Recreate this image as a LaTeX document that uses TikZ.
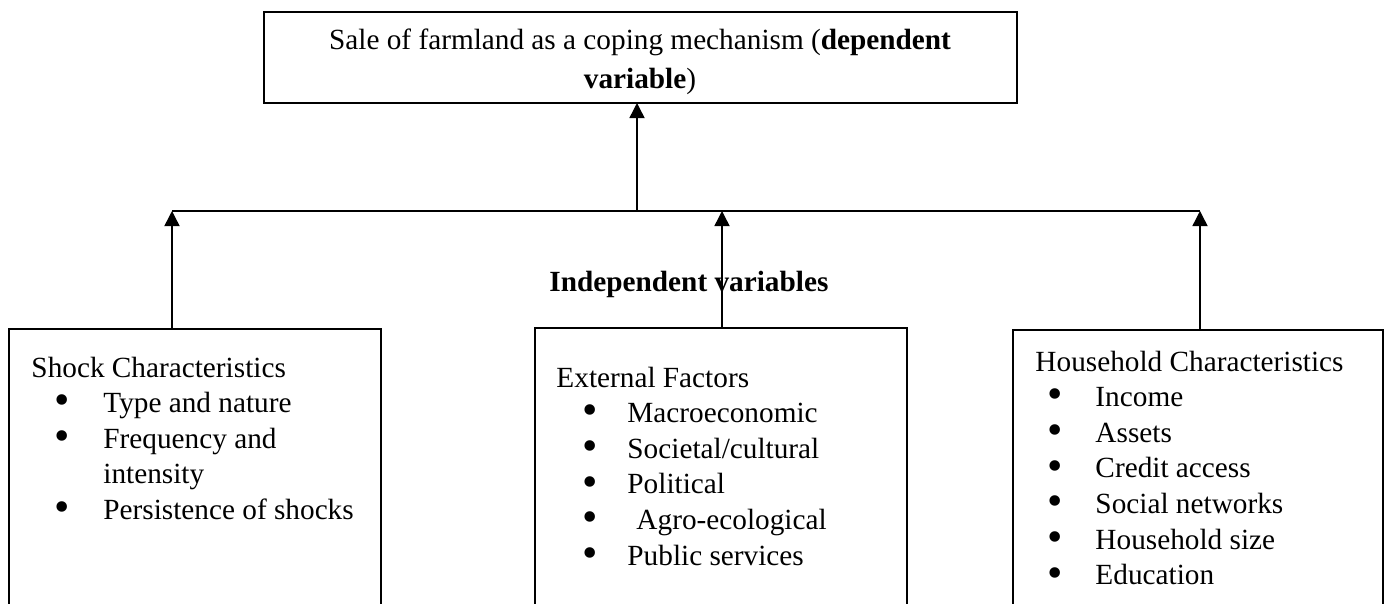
\documentclass[tikz,border=0pt]{standalone}
\usepackage{fontspec}
\usepackage{graphicx}
\setmainfont{Liberation Serif}
\usetikzlibrary{arrows.meta}
\newcommand\mybul{\raisebox{-0.08em}{\scalebox{1.5}{•}}}
\newcommand\myitem[3]{\makebox[#2][l]{\hspace{#1}\mybul}#3}
\begin{document}
\begin{tikzpicture}[x=0.41pt,y=-0.41pt,
  box/.style={draw, line width=0.82pt, anchor=north west, minimum height=170pt, inner sep=0pt, outer sep=0pt},
  conn/.style={line width=0.6pt},
  arr/.style={conn, -{Triangle[width=6.2pt,length=6.2pt]}},
  txt/.style={anchor=base west, inner sep=0pt, font=\fontsize{12}{14.6}\selectfont}]
\useasboundingbox (0,0) rectangle (1388,603);
\clip (0,0) rectangle (1388,603);
% top box
\node[draw, line width=0.82pt, minimum width=308.73pt, minimum height=37.31pt, inner sep=0pt, outer sep=0pt] (top) at (640.5,57.5) {};
\node[align=center, inner sep=0pt, font=\fontsize{12}{15.8}\selectfont] (toptxt) at (640,62) {Sale of farmland as a coping mechanism (\textbf{dependent}\\\textbf{variable})};
% lower boxes
\node[box, minimum width=152.52pt] (shock) at (9,329) {};
\node[box, minimum width=152.52pt] (ext) at (535,328) {};
\node[box, minimum width=151.7pt] (house) at (1013,330) {};
% texts
\node[txt, font=\bfseries\fontsize{12}{14.6}\selectfont] (indep) at (549,291) {Independent variables};
\node[txt] (shocktxt) at (31,377) {\begin{tabular}[t]{@{}l@{}}Shock Characteristics\\
 \myitem{9.4pt}{29.5pt}{Type and nature}\\
 \myitem{9.4pt}{29.5pt}{Frequency and}\\
 \hspace{29.5pt}intensity\\
 \myitem{9.4pt}{29.5pt}{Persistence of shocks}\end{tabular}};
\node[txt] (exttxt) at (556,387) {\begin{tabular}[t]{@{}l@{}}External Factors\\
 \myitem{10.5pt}{29.1pt}{Macroeconomic}\\
 \myitem{10.5pt}{29.1pt}{Societal/cultural}\\
 \myitem{10.5pt}{29.1pt}{Political}\\
 \myitem{10.5pt}{29.1pt}{\hspace{3.7pt}Agro-ecological}\\
 \myitem{10.5pt}{29.1pt}{Public services}\end{tabular}};
\node[txt] (housetxt) at (1035,371) {\begin{tabular}[t]{@{}l@{}}Household Characteristics\\
 \myitem{4.8pt}{24.6pt}{Income}\\
 \myitem{4.8pt}{24.6pt}{Assets}\\
 \myitem{4.8pt}{24.6pt}{Credit access}\\
 \myitem{4.8pt}{24.6pt}{Social networks}\\
 \myitem{4.8pt}{24.6pt}{Household size}\\
 \myitem{4.8pt}{24.6pt}{Education}\end{tabular}};
% connectors
\coordinate (jL) at (172,211);
\coordinate (jM) at (722,211);
\coordinate (jR) at (1200,211);
\coordinate (jT) at (637,211);
\draw[conn] (jL) -- (jR);
\draw[arr] (shock.north -| jL) -- (jL);
\draw[arr] (ext.north -| jM) -- (jM);
\draw[arr] (house.north -| jR) -- (jR);
\draw[arr] (jT) -- (top.south -| jT);
\end{tikzpicture}
\end{document}
